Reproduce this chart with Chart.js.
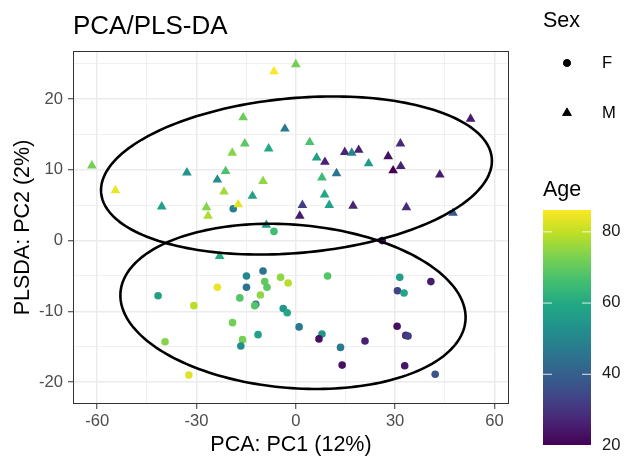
<!DOCTYPE html>
<html>
<head>
<meta charset="utf-8">
<script src="https://cdn.jsdelivr.net/npm/chart.js@4.4.1/dist/chart.umd.min.js"></script>
<style>
  html, body { margin: 0; padding: 0; background: #fff; }
  canvas { display: block; }
</style>
</head>
<body>
<canvas id="chart" width="624" height="456"></canvas>
<script>
// Female samples (circles)
const femaleX = [-18.9, -6.6, 26.1, -9.9, -14.9, -4.6, -2.3, -9.4, -8.7, -14.9, -23.7, -41.6, -10.7, -16.9, -30.8, -12.1, -12.4, -3.8, -2.6, -19.1, 1.0, -11.4, -39.5, -16.1, -16.6, -32.3, 9.6, 31.4, 40.8, 30.7, 32.7, 7.9, 7.0, 13.5, 20.9, 30.6, 33.2, 33.9, 14.0, 32.9, 42.1];
const femaleY = [4.5, 1.3, 0.0, -4.3, -5.0, -5.2, -6.0, -5.8, -6.6, -6.6, -6.6, -7.8, -7.7, -8.1, -9.2, -9.0, -9.2, -9.6, -10.2, -11.6, -12.2, -13.3, -14.3, -14.0, -14.9, -19.0, -5.0, -5.2, -5.8, -7.1, -7.4, -13.2, -13.9, -15.1, -14.2, -12.1, -13.4, -13.5, -17.6, -17.7, -18.9];
const femaleAge = [48, 66, 23, 46, 50, 75, 79, 70, 69, 45, 84, 57, 75, 68, 79, 47, 68, 55, 59, 72, 47, 58, 74, 72, 52, 83, 68, 57, 25, 33, 59, 55, 23, 47, 26, 23, 28, 32, 23, 24, 37];

// Male samples (triangles)
const maleX = [-6.6, 0.0, -15.9, -3.3, -15.4, -19.2, -8.2, -61.6, -32.9, -23.7, -21.2, -9.9, -54.5, -21.7, -13.1, -40.5, -27.0, -26.5, -17.4, -8.9, 52.8, 4.2, 6.3, 8.8, 14.8, 16.9, 19.0, 31.6, 22.0, 27.9, 29.4, 31.7, 43.5, 7.9, 12.3, 8.7, 10.1, 2.0, 1.2, 17.3, 33.4, 47.5, -23.0];
const maleY = [23.9, 24.9, 17.4, 15.8, 13.7, 12.4, 13.0, 10.6, 9.6, 8.6, 9.8, 8.4, 7.1, 6.9, 6.3, 4.8, 4.7, 3.5, 5.1, 2.2, 17.2, 13.9, 11.7, 11.1, 12.5, 12.4, 12.8, 13.7, 10.9, 11.9, 9.9, 10.5, 9.3, 8.9, 9.5, 6.5, 5.0, 5.0, 3.5, 4.9, 4.7, 3.9, -2.2];
const maleAge = [86, 72, 71, 47, 69, 74, 60, 72, 54, 52, 67, 75, 84, 77, 57, 57, 74, 78, 83, 55, 25, 67, 57, 26, 27, 50, 26, 28, 56, 23, 20, 26, 25, 65, 46, 59, 58, 32, 25, 27, 28, 38, 60];

const xTicks = [-60, -30, 0, 30, 60];
const yTicks = [-20, -10, 0, 10, 20];
const ageTicks = [20, 40, 60, 80];

// confidence ellipses: centre + two conjugate semi-axis vectors, data units
const ellipseM = { cx: 0.2, cy: 9.2, ux: 59.0, uy: 2.46, vx: 2.08, vy: -10.9 };
const ellipseF = { cx: -0.85, cy: -9.3, ux: 52.1, uy: -2.0, vx: -2.0, vy: -11.5 };

const FONT = '"Liberation Sans", Arial, sans-serif';
const VIRIDIS = ['#440154', '#482475', '#414487', '#355F8D', '#2A788E', '#21918C',
  '#22A884', '#44BF70', '#7AD151', '#BDDF26', '#FDE725'];

const ageMin = Math.min(...femaleAge, ...maleAge);
const ageMax = Math.max(...femaleAge, ...maleAge);

const hex = (h) => [1, 3, 5].map((i) => parseInt(h.slice(i, i + 2), 16));
const viridis = (t) => {
  t = Math.max(0, Math.min(1, t)) * (VIRIDIS.length - 1);
  const i = Math.min(Math.floor(t), VIRIDIS.length - 2);
  const f = t - i;
  const a = hex(VIRIDIS[i]);
  const b = hex(VIRIDIS[i + 1]);
  const c = a.map((v, k) => Math.round(v + (b[k] - v) * f));
  return `rgb(${c[0]}, ${c[1]}, ${c[2]})`;
};
const ageColour = (age) => viridis((age - ageMin) / (ageMax - ageMin));

// major + minor (half-step) grid values inside [min, max]
const withMinor = (major, min, max) => {
  const step = (major[1] - major[0]) / 2;
  const out = [];
  for (let v = Math.ceil(min / step) * step; v <= max; v += step) out.push(v);
  return out;
};

const X_MIN = -67.3, X_MAX = 64.4, Y_MIN = -23.1, Y_MAX = 26.8;

const axisOptions = (major, min, max, fitKey, fitSize) => ({
  type: 'linear',
  min,
  max,
  afterBuildTicks: (scale) => {
    scale.ticks = withMinor(major, min, max).map((value) => ({ value }));
  },
  afterFit: (scale) => {
    scale[fitKey] = fitSize;
  },
  grid: {
    color: '#EBEBEB',
    lineWidth: (ctx) => (major.includes(ctx.tick && ctx.tick.value) ? 1.5 : 0.75),
    tickColor: (ctx) => (major.includes(ctx.tick && ctx.tick.value) ? '#333333' : 'rgba(0,0,0,0)'),
    tickWidth: 1,
    tickLength: 5,
  },
  border: { display: false },
  ticks: {
    autoSkip: false,
    maxRotation: 0,
    padding: fitKey === 'width' ? 5 : 2,
    color: '#4D4D4D',
    font: { family: FONT, size: 16.6 },
    callback: (value) => (major.includes(value) ? String(value) : ''),
  },
});

const ggExtras = {
  id: 'ggExtras',
  afterDatasetsDraw(chart) {
    const { ctx, chartArea: a, scales: { x, y } } = chart;
    ctx.save();
    ctx.strokeStyle = '#000';
    ctx.lineWidth = 2.6;
    [ellipseM, ellipseF].forEach((e) => {
      ctx.beginPath();
      for (let i = 0; i <= 200; i++) {
        const t = (i / 200) * Math.PI * 2;
        const px = x.getPixelForValue(e.cx + e.ux * Math.cos(t) + e.vx * Math.sin(t));
        const py = y.getPixelForValue(e.cy + e.uy * Math.cos(t) + e.vy * Math.sin(t));
        if (i === 0) ctx.moveTo(px, py);
        else ctx.lineTo(px, py);
      }
      ctx.closePath();
      ctx.stroke();
    });
    // panel border (theme_bw)
    ctx.strokeStyle = '#333333';
    ctx.lineWidth = 1;
    ctx.strokeRect(a.left + 0.5, a.top + 0.5, a.width - 1, a.height - 1);
    ctx.restore();
  },
  afterDraw(chart) {
    const { ctx } = chart;
    ctx.save();
    ctx.fillStyle = '#000';
    ctx.textAlign = 'left';
    ctx.textBaseline = 'alphabetic';
    ctx.font = `26px ${FONT}`;
    ctx.fillText('PCA/PLS-DA', 73, 34);

    // Sex legend
    ctx.font = `21.5px ${FONT}`;
    ctx.fillText('Sex', 543, 27);
    Chart.helpers.drawPoint(ctx, { pointStyle: 'circle', radius: 3.8, borderWidth: 0 }, 567, 63);
    ctx.fill();
    Chart.helpers.drawPoint(ctx, { pointStyle: 'triangle', radius: 5.6, borderWidth: 0 }, 567, 113);
    ctx.fill();
    ctx.font = `16.6px ${FONT}`;
    ctx.textBaseline = 'middle';
    ctx.fillText('F', 602, 63);
    ctx.fillText('M', 602, 113);

    // Age colourbar
    ctx.textBaseline = 'alphabetic';
    ctx.font = `21.5px ${FONT}`;
    ctx.fillText('Age', 543, 196);
    const bar = { left: 543, right: 591, top: 210, bottom: 445 };
    const grad = ctx.createLinearGradient(0, bar.bottom, 0, bar.top);
    for (let i = 0; i <= 20; i++) grad.addColorStop(i / 20, viridis(i / 20));
    ctx.fillStyle = grad;
    ctx.fillRect(bar.left, bar.top, bar.right - bar.left, bar.bottom - bar.top);
    ctx.font = `16.6px ${FONT}`;
    ctx.textBaseline = 'middle';
    ageTicks.forEach((v) => {
      const py = bar.bottom - ((v - ageMin) / (ageMax - ageMin)) * (bar.bottom - bar.top);
      ctx.strokeStyle = 'rgba(255,255,255,0.85)';
      ctx.lineWidth = 1;
      ctx.beginPath();
      ctx.moveTo(bar.left, py + 0.5);
      ctx.lineTo(bar.left + 9, py + 0.5);
      ctx.moveTo(bar.right - 9, py + 0.5);
      ctx.lineTo(bar.right, py + 0.5);
      ctx.stroke();
      ctx.fillStyle = '#1A1A1A';
      ctx.fillText(String(v), 602, py);
    });
    ctx.restore();
  },
};

const toPoints = (xs, ys) => xs.map((x, i) => ({ x, y: ys[i] }));

new Chart(document.getElementById('chart'), {
  type: 'scatter',
  data: {
    datasets: [
      {
        label: 'M',
        order: 0,
        data: toPoints(maleX, maleY),
        pointStyle: 'triangle',
        pointRadius: 5.6,
        pointBorderWidth: 0,
        pointBackgroundColor: maleAge.map(ageColour),
      },
      {
        label: 'F',
        order: 1,
        data: toPoints(femaleX, femaleY),
        pointStyle: 'circle',
        pointRadius: 3.8,
        pointBorderWidth: 0,
        pointBackgroundColor: femaleAge.map(ageColour),
      },
    ],
  },
  options: {
    responsive: false,
    animation: false,
    devicePixelRatio: 1,
    layout: { padding: { left: 0, right: 115, top: 51, bottom: 0 } },
    plugins: {
      legend: { display: false },
      tooltip: { enabled: false },
    },
    scales: {
      x: {
        ...axisOptions(xTicks, X_MIN, X_MAX, 'height', 52),
        title: {
          display: true,
          text: 'PCA: PC1 (12%)',
          color: '#000',
          font: { family: FONT, size: 21.5, lineHeight: 1 },
          padding: 0,
        },
      },
      y: {
        ...axisOptions(yTicks, Y_MIN, Y_MAX, 'width', 73),
        title: {
          display: true,
          text: 'PLSDA: PC2 (2%)',
          color: '#000',
          font: { family: FONT, size: 21.5, lineHeight: 1 },
          padding: { top: 12, bottom: 0 },
        },
      },
    },
  },
  plugins: [ggExtras],
});
</script>
</body>
</html>
